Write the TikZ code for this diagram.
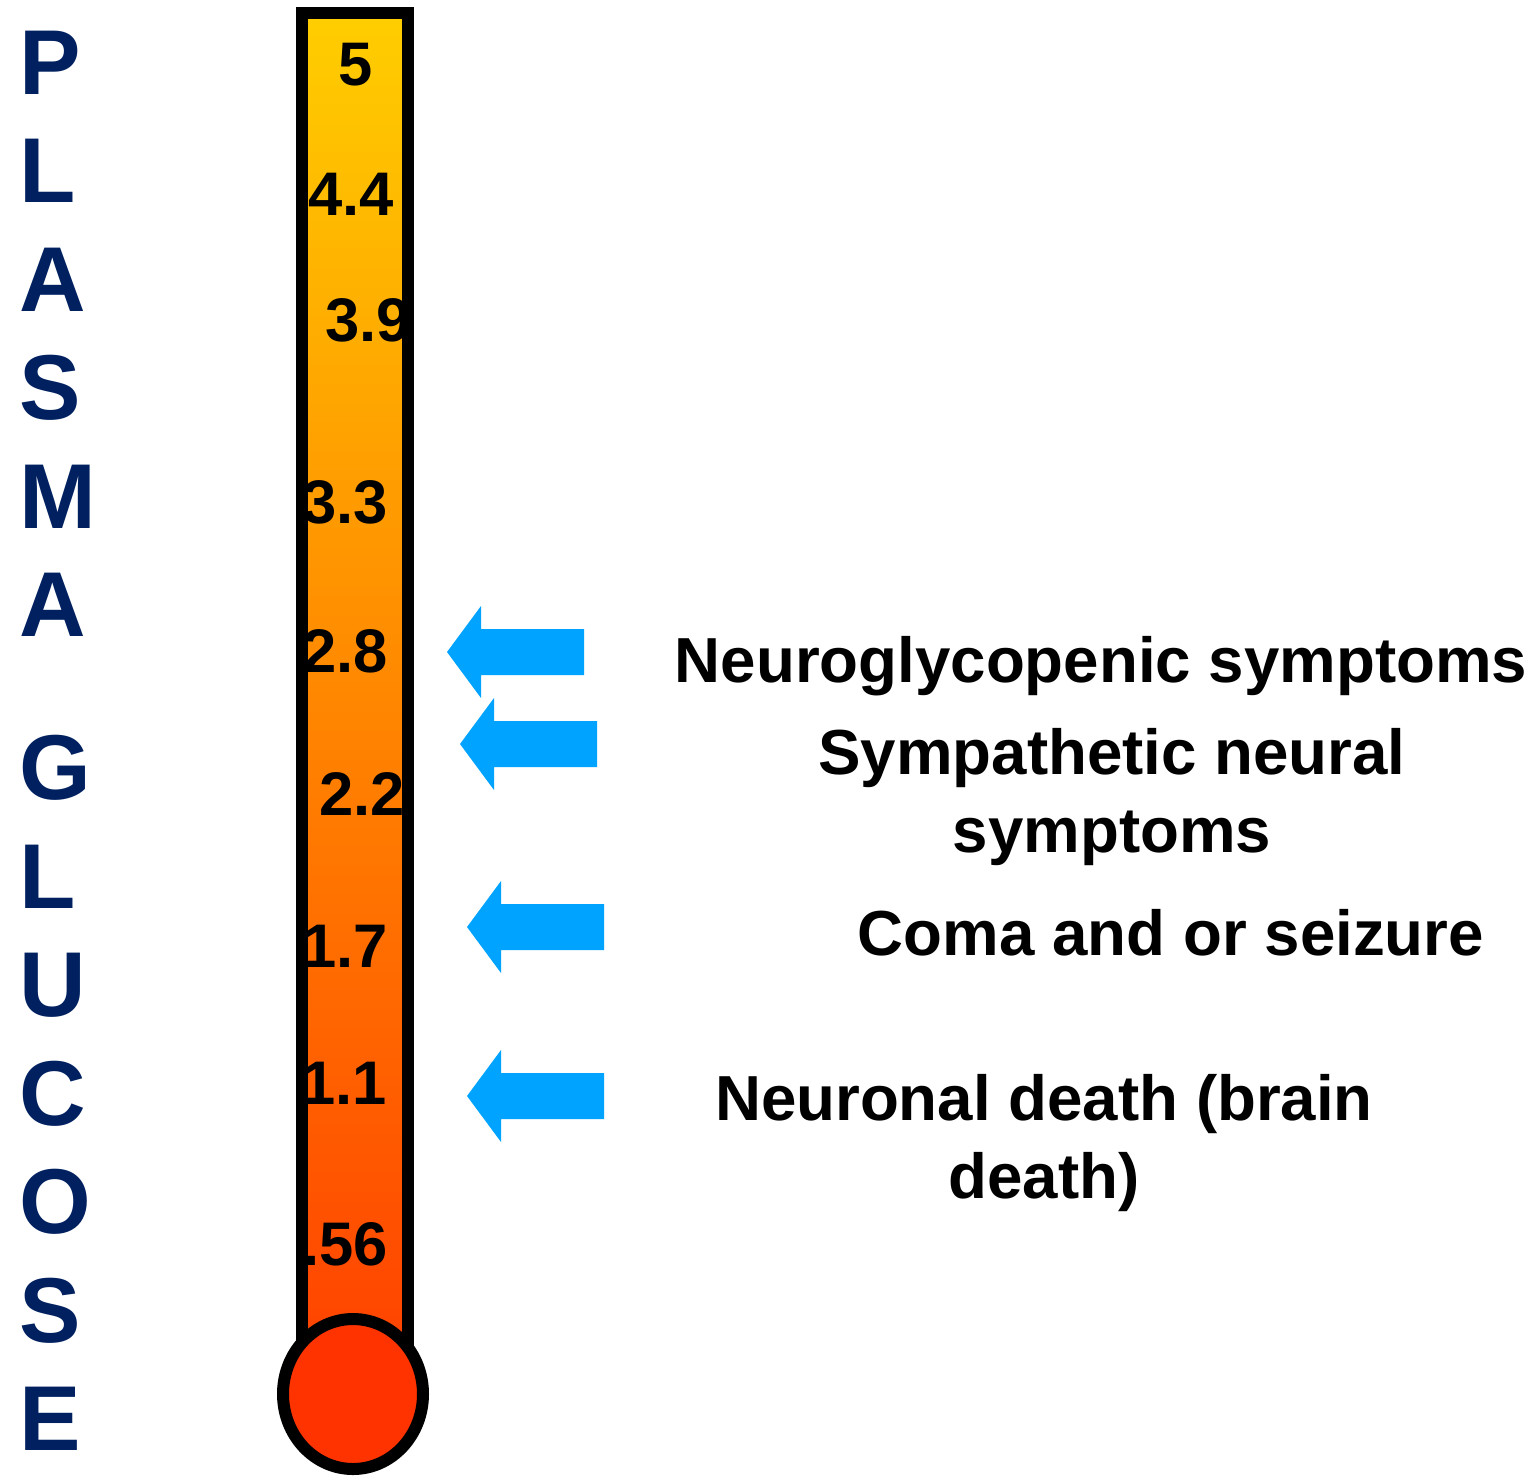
\documentclass[tikz,border=0pt]{standalone}
\usepackage{fontspec}
\setmainfont{Liberation Sans}
\usepackage{xcolor}
\usetikzlibrary{positioning}

\definecolor{glucosenavy}{RGB}{0,32,96}
\definecolor{pointerblue}{RGB}{0,163,255}
\definecolor{tubetop}{RGB}{255,206,0}
\definecolor{tubebottom}{RGB}{255,66,0}
\definecolor{bulbred}{RGB}{255,51,0}

\begin{document}
\begin{tikzpicture}[
  x=0.01cm, y=-0.01cm,
  vletter/.style={anchor=base west,inner sep=0pt,text=glucosenavy,
                  font=\fontsize{26.2}{31}\selectfont\bfseries},
  reading/.style={inner sep=0pt,font=\fontsize{17.5}{21}\selectfont\bfseries},
  symptom/.style={inner sep=0pt,align=center,font=\fontsize{18.1}{22.2}\selectfont\bfseries},
  pointer/.style={fill=pointerblue},
  outline/.style={draw=black,line width=0.12cm}
]
  \useasboundingbox (0,0) rectangle (1536,1475);

  % vertical caption
  \foreach \ch [count=\i] in {P,L,A,S,M,A}
    \node[vletter] (cap-\i) at (19,{94+(\i-1)*108.5}) {\ch};
  \foreach \ch [count=\i] in {G,L,U,C,O,S,E}
    \node[vletter] (low-\i) at (19,{799.5+(\i-1)*108.5}) {\ch};

  % thermometer tube
  \shade[top color=tubetop,bottom color=tubebottom] (302,13) rectangle (407.5,1360);
  \foreach \val/\px/\py [count=\i] in {5/356/65, 4.4/351/194, 3.9/368/320, 3.3/345/502,
      2.8/345/651, 2.2/362/794, 1.7/345/946, 1.1/344/1083, .56/345/1244}
    \node[reading] (val-\i) at (\px,\py) {\val};
  \draw[outline] (302,1360) -- (302,13) -- (407.5,13) -- (407.5,1360);
  \filldraw[outline,fill=bulbred] (353,1394) ellipse [x radius=70,y radius=75];

  % arrows
  \foreach \tx/\ty [count=\k] in {447/652, 460/744, 467/927, 467/1096}
    \fill[pointer] (\tx,\ty) -- ++(34,-46) -- ++(0,23) -- ++(103,0) -- ++(0,46)
      -- ++(-103,0) -- ++(0,23) -- cycle;

  % labels
  \node[symptom,anchor=base] (neuro) at (1101,682) {Neuroglycopenic symptoms};
  \node[symptom] (sympa) at (1112,797) {Sympathetic neural\\symptoms};
  \node[symptom,anchor=base] (coma) at (1171,955) {Coma and or seizure};
  \node[symptom] (death) at (1044,1143) {Neuronal death (brain\\death)};
\end{tikzpicture}
\end{document}
